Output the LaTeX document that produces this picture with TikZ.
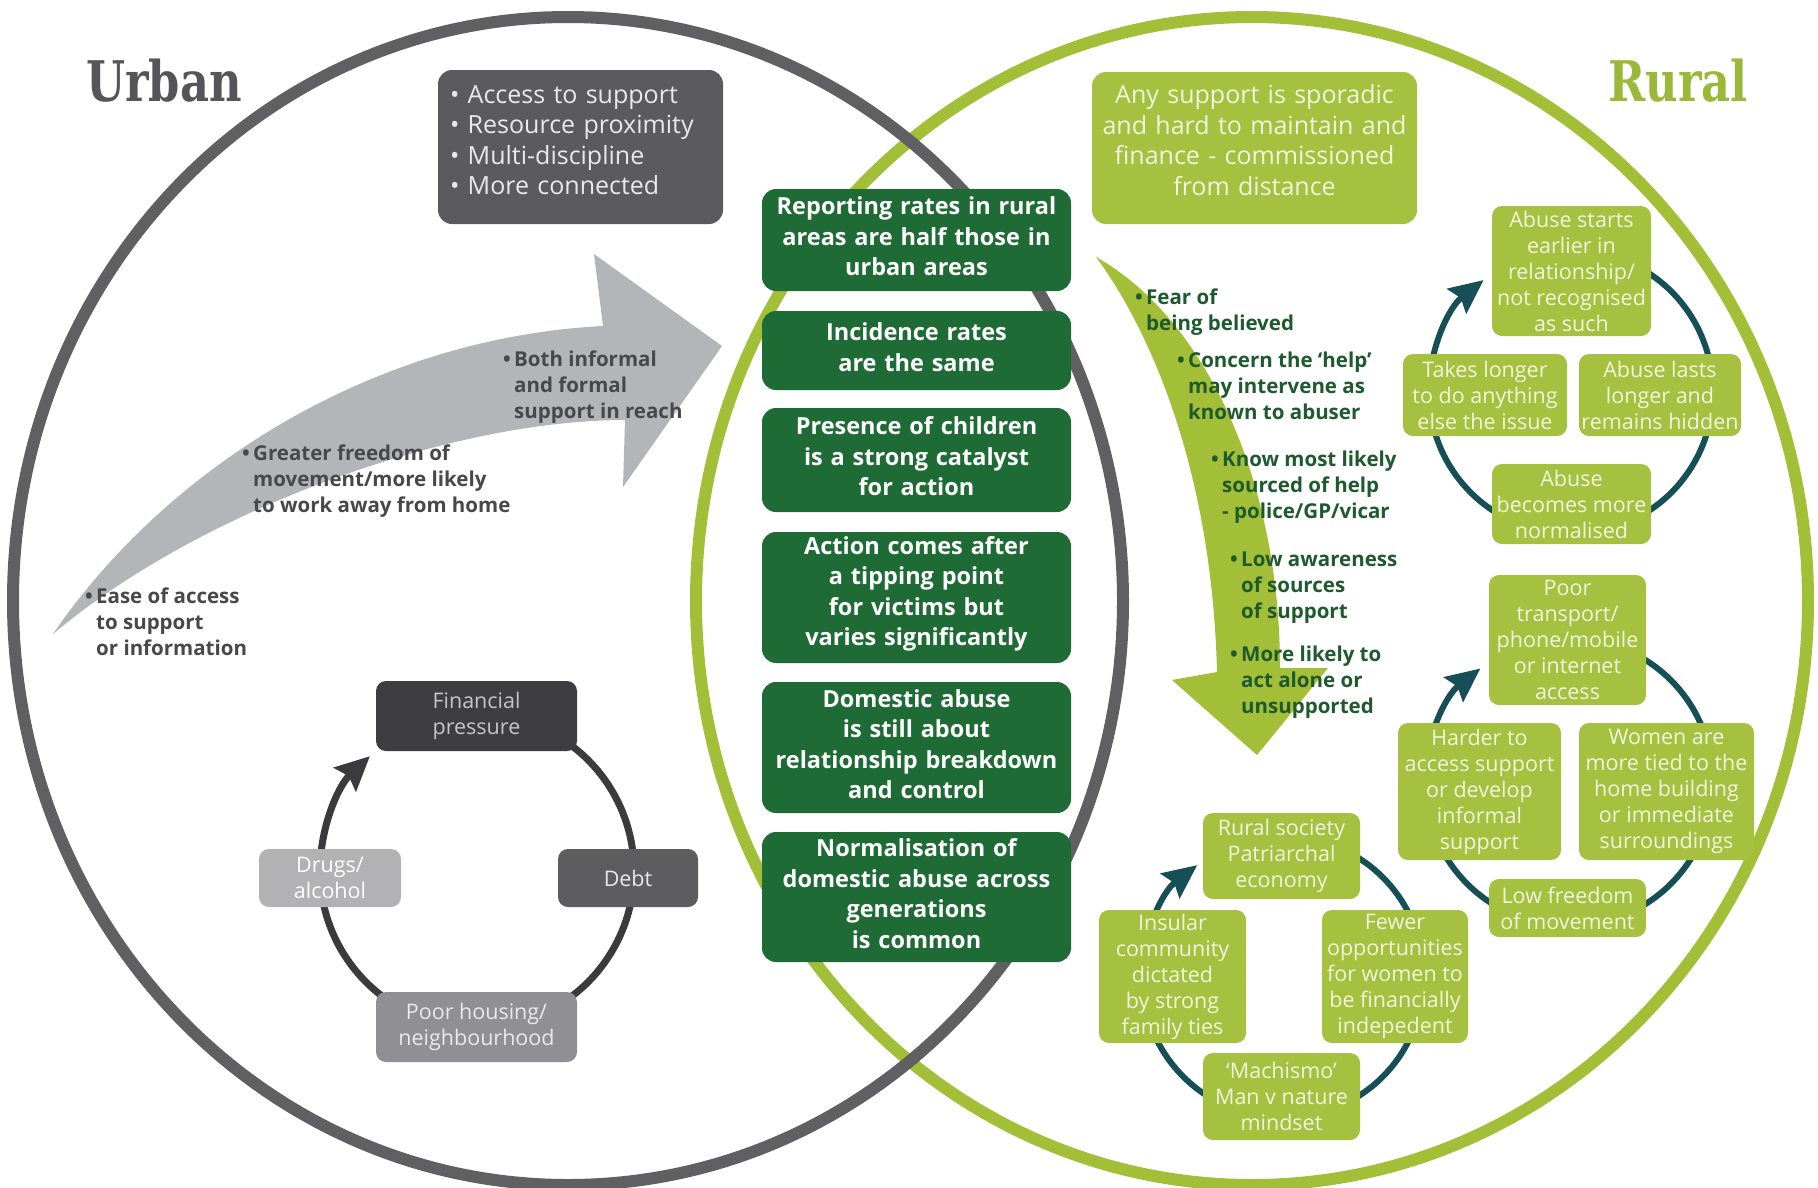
\documentclass[tikz,border=0pt]{standalone}
\usepackage{fontspec}
\setmainfont{Open Sans}
\newfontfamily\slab{DejaVu Serif}
\usetikzlibrary{arrows.meta,calc}
\newcommand\bottompad[1]{\par\vspace*{#1}}
\newcommand\cboxtail{\bottompad{7pt}}
\definecolor{ugray}{HTML}{606063}
\definecolor{utitle}{HTML}{56565A}
\definecolor{uboxc}{HTML}{5B5B5E}
\definecolor{uarrowc}{HTML}{B4B5B8}
\definecolor{uatext}{HTML}{48484B}
\definecolor{finc}{HTML}{3E3E40}
\definecolor{debtc}{HTML}{5D5D60}
\definecolor{drugc}{HTML}{B2B2B4}
\definecolor{housc}{HTML}{909093}
\definecolor{ucycc}{HTML}{3B3B3D}
\definecolor{rgreen}{HTML}{A3BE37}
\definecolor{rtitle}{HTML}{9CB83A}
\definecolor{rboxc}{HTML}{A6C040}
\definecolor{cgreen}{HTML}{1F6B35}
\definecolor{ratext}{HTML}{1F5A2E}
\definecolor{rcycc}{HTML}{174F57}
\definecolor{ltxt}{HTML}{F1F6DE}
\definecolor{gtxt}{HTML}{E9E9EA}
\begin{document}
\begin{tikzpicture}[x=1pt,y=-1pt,
  ring/.style={line width=12pt},
  cbox/.style={fill=cgreen, rounded corners=14pt, text=white, font=\bfseries\fontsize{23.5}{30.5}\selectfont, align=center, text width=300pt, minimum width=309pt, inner sep=0pt, execute at end node=\cboxtail},
  bigbox/.style={rounded corners=14pt, font=\fontsize{25}{30.5}\selectfont, inner sep=0pt},
  sbox/.style={rounded corners=10pt, align=center, inner sep=0pt, font=\fontsize{21.5}{26}\selectfont},
  rsbox/.style={sbox, fill=rboxc, text=ltxt},
  atext/.style={font=\bfseries\fontsize{20.5}{26}\selectfont, align=left, anchor=west, inner sep=0pt},
  ucyc/.style={draw=ucycc, line width=7pt, -{Stealth[length=34pt,width=32pt,inset=5pt]}},
  rcyc/.style={draw=rcycc, line width=6pt, -{Stealth[length=34pt,width=31pt,inset=5pt]}},
  title/.style={font=\slab\bfseries\fontsize{56}{60}\selectfont}
]
\path[use as bounding box, fill=white] (0,0) rectangle (1818,1187);

% rings
\draw[ring, draw=rgreen] (1252,601) ellipse [x radius=556, y radius=584];
\draw[ring, draw=ugray] (568,601) ellipse [x radius=555, y radius=584];

% titles
\node[title, text=utitle] (urban) at (164,81) {\scalebox{0.8}[1]{Urban}};
\node[title, text=rtitle] (rural) at (1678,81) {\scalebox{0.8}[1]{Rural}};

% urban curved arrow
\fill[uarrowc] (53,634) .. controls (165,470) and (370,338) .. (603,326) -- (594,254) -- (722,346) -- (623,487) -- (625,420) .. controls (450,420) and (200,510) .. (53,634) -- cycle;

% rural curved arrow
\fill[rgreen] (1096,257) .. controls (1150,330) and (1212,470) .. (1217,672) -- (1172,680) -- (1257,755) -- (1328,668) -- (1280,668) .. controls (1280,480) and (1205,318) .. (1096,257) -- cycle;

% top boxes
\node[bigbox, fill=uboxc, text=gtxt, minimum width=285pt, minimum height=154pt, text width=261pt, inner xsep=12pt, align=left] (ubox) at (580.5,147) {• Access to support\\• Resource proximity\\• Multi-discipline\\• More connected\bottompad{14pt}};
\node[bigbox, fill=rboxc, text=ltxt, minimum width=325pt, minimum height=152pt, text width=315pt, align=center] (rbox) at (1254.5,148) {Any support is sporadic\\and hard to maintain and\\finance - commissioned\\from distance\bottompad{16pt}};

% centre boxes
\node[cbox, minimum height=102pt] (c1) at (916.5,240) {Reporting rates in rural\\areas are half those in\\urban areas};
\node[cbox, minimum height=79pt] (c2) at (916.5,350.5) {Incidence rates\\are the same};
\node[cbox, minimum height=104pt] (c3) at (916.5,460) {Presence of children\\is a strong catalyst\\for action};
\node[cbox, minimum height=131pt] (c4) at (916.5,597.5) {Action comes after\\a tipping point\\for victims but\\varies significantly};
\node[cbox, minimum height=131pt] (c5) at (916.5,747.5) {Domestic abuse\\is still about\\relationship breakdown\\and control};
\node[cbox, minimum height=130pt] (c6) at (916.5,897) {Normalisation of\\domestic abuse across\\generations\\is common};

% urban arrow texts
\node[atext, text=uatext] (ua1) at (514,387) {\llap{•\,}Both informal\\and formal\\support in reach};
\node[atext, text=uatext] (ua2) at (253,481) {\llap{•\,}Greater freedom of\\movement/more likely\\to work away from home};
\node[atext, text=uatext] (ua3) at (96,622) {\llap{•\,}Ease of access\\to support\\or information};

% rural arrow texts
\node[atext, text=ratext] (ra1) at (1146,312) {\llap{•\,}Fear of\\being believed};
\node[atext, text=ratext] (ra2) at (1188,386) {\llap{•\,}Concern the ‘help’\\may intervene as\\known to abuser};
\node[atext, text=ratext] (ra3) at (1222,487) {\llap{•\,}Know most likely\\sourced of help\\- police/GP/vicar};
\node[atext, text=ratext] (ra4) at (1241,588) {\llap{•\,}Low awareness\\of sources\\of support};
\node[atext, text=ratext] (ra5) at (1241,682) {\llap{•\,}More likely to\\act alone or\\unsupported};

% urban cycle
\coordinate (uc) at (477,871);
\draw[ucyc] ($(uc)+(300:157)$) arc[start angle=300, end angle=587, radius=157];
\node[sbox, fill=finc, text=gtxt!85!black, minimum width=201pt, minimum height=70pt] (fin) at (476.5,716) {Financial\\pressure};
\node[sbox, fill=debtc, text=gtxt, minimum width=140pt, minimum height=58pt] (debt) at (628,878) {Debt};
\node[sbox, fill=drugc, text=white, minimum width=142pt, minimum height=58pt] (drug) at (330,878) {Drugs/\\alcohol};
\node[sbox, fill=housc, text=gtxt, minimum width=201pt, minimum height=70pt] (hous) at (476.5,1027) {Poor housing/\\neighbourhood};

% rural cycle 1
\coordinate (rc1) at (1571,392);
\draw[rcyc] ($(rc1)+(300:142)$) arc[start angle=300, end angle=592, radius=142];
\node[rsbox, minimum width=159pt, minimum height=130pt] (a1) at (1571.5,271) {Abuse starts\\earlier in\\relationship/\\not recognised\\as such};
\node[rsbox, minimum width=164pt, minimum height=82pt] (a2) at (1485,395) {Takes longer\\to do anything\\else the issue};
\node[rsbox, minimum width=162pt, minimum height=82pt] (a3) at (1660,395) {Abuse lasts\\longer and\\remains hidden};
\node[rsbox, minimum width=159pt, minimum height=80pt] (a4) at (1571.5,504) {Abuse\\becomes more\\normalised};

% rural cycle 2
\coordinate (rc2) at (1569,782);
\draw[rcyc] ($(rc2)+(300:144)$) arc[start angle=300, end angle=592, radius=144];
\node[rsbox, minimum width=157pt, minimum height=130pt] (p1) at (1567.5,640) {Poor\\transport/\\phone/mobile\\or internet\\access};
\node[rsbox, minimum width=163pt, minimum height=137pt] (p2) at (1479.5,791.5) {Harder to\\access support\\or develop\\informal\\support};
\node[rsbox, minimum width=175pt, minimum height=137pt] (p3) at (1666.5,791.5) {Women are\\more tied to the\\home building\\or immediate\\surroundings};
\node[rsbox, minimum width=157pt, minimum height=58pt] (p4) at (1567.5,908) {Low freedom\\of movement};

% rural cycle 3
\coordinate (rc3) at (1283,977);
\draw[rcyc] ($(rc3)+(300:141)$) arc[start angle=300, end angle=592.5, radius=141];
\node[rsbox, minimum width=157pt, minimum height=86pt] (s1) at (1281.5,856) {Rural society\\Patriarchal\\economy};
\node[rsbox, minimum width=147pt, minimum height=133pt] (s2) at (1172.5,976.5) {Insular\\community\\dictated\\by strong\\family ties};
\node[rsbox, minimum width=146pt, minimum height=133pt] (s3) at (1395,976.5) {Fewer\\opportunities\\for women to\\be financially\\indepedent};
\node[rsbox, minimum width=157pt, minimum height=87pt] (s4) at (1281.5,1096.5) {‘Machismo’\\Man v nature\\mindset};
\end{tikzpicture}
\end{document}
